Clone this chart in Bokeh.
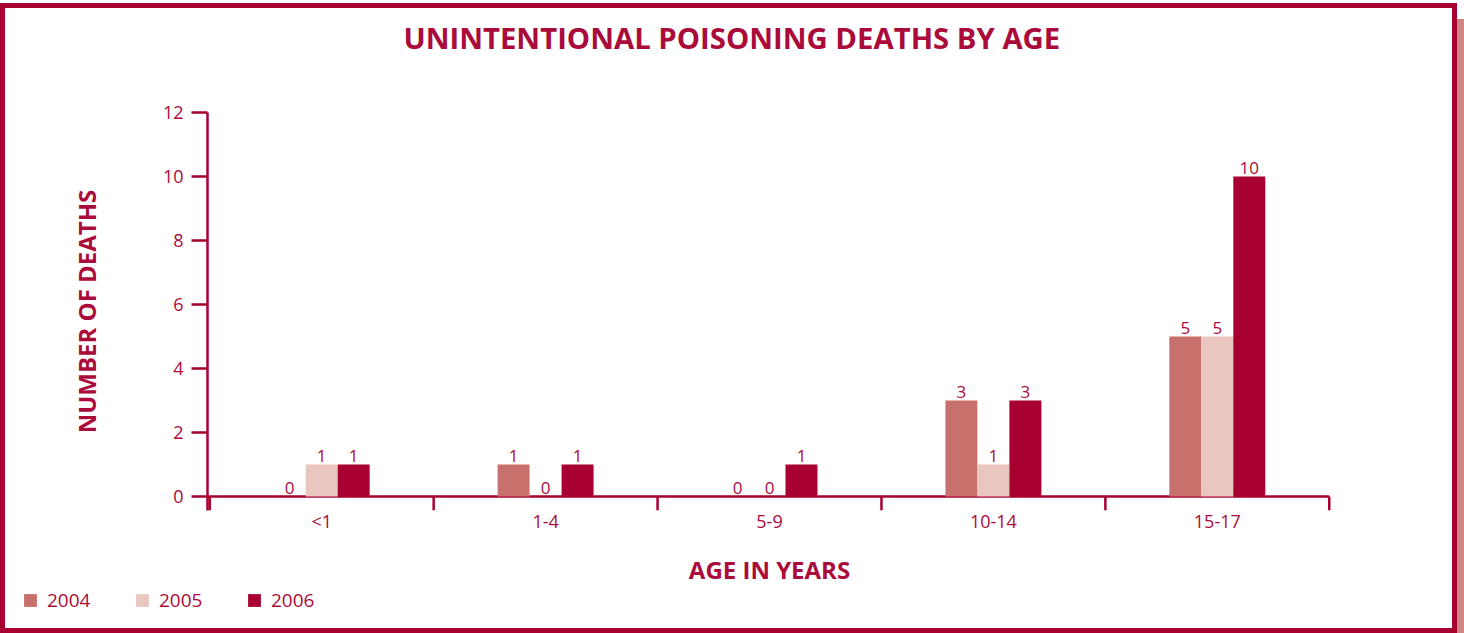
from bokeh.plotting import figure
from bokeh.layouts import column
from bokeh.models import (ColumnDataSource, FactorRange, Range1d, FixedTicker,
                          Legend, LegendItem, Title)
from bokeh.transform import dodge
from bokeh.core.properties import value
from bokeh.embed import file_html
from bokeh.resources import INLINE

# ---- data ----
cats = ["<1", "1-4", "5-9", "10-14", "15-17"]
years = ["2004", "2005", "2006"]
d2004 = [0, 1, 0, 3, 5]
d2005 = [1, 0, 0, 1, 5]
d2006 = [1, 1, 1, 3, 10]
y_ticks = [0, 2, 4, 6, 8, 10, 12]

TEXT = "#AB0B3B"
LINE = "#A80030"
colors = ["#C8706B", "#EAC6C0", "#A80030"]
FONT = "Open Sans"

src = ColumnDataSource(dict(
    cat=cats,
    d2004=d2004, d2005=d2005, d2006=d2006,
    t2004=[str(v) for v in d2004],
    t2005=[str(v) for v in d2005],
    t2006=[str(v) for v in d2006],
))

W = 1447
YMIN = -0.44
p = figure(x_range=FactorRange(*cats, range_padding=0.004),
           y_range=Range1d(YMIN, 12),
           width=W, height=580,
           output_backend="svg", toolbar_location=None,
           min_border_left=202, min_border_right=121,
           min_border_top=0, min_border_bottom=78)
p.frame_align = False
p.title_location = None

# spacer between frame and title, then the title itself (outermost)
p.add_layout(Title(text=" ", text_font_size="1px", standoff=45), "above")
p.add_layout(Title(text="UNINTENTIONAL POISONING DEATHS BY AGE", align="left",
                   offset=196, standoff=14, text_font=FONT,
                   text_font_size="29.3px", text_font_style="bold",
                   text_color=TEXT), "above")

p.grid.visible = False
p.outline_line_color = None
p.background_fill_color = "white"
p.border_fill_color = "white"

# y axis
ya = p.yaxis[0]
ya.ticker = FixedTicker(ticks=y_ticks)
ya.axis_line_color = LINE
ya.axis_line_width = 2.5
ya.major_tick_line_color = LINE
ya.major_tick_line_width = 2.5
ya.major_tick_out = 16
ya.major_tick_in = 0
ya.minor_tick_line_color = None
ya.major_label_text_font = FONT
ya.major_label_text_font_size = "18px"
ya.major_label_text_color = TEXT
ya.major_label_standoff = 8
ya.axis_label = "NUMBER OF DEATHS"
ya.axis_label_text_font = FONT
ya.axis_label_text_font_size = "24px"
ya.axis_label_text_font_style = "bold"
ya.axis_label_text_color = TEXT
ya.axis_label_standoff = 57

# x axis (category labels)
xa = p.xaxis[0]
xa.axis_line_color = None
xa.major_tick_line_color = None
xa.minor_tick_line_color = None
xa.major_label_standoff = -8
xa.major_label_text_font = FONT
xa.major_label_text_font_size = "18px"
xa.major_label_text_color = TEXT
xa.axis_label = "AGE IN YEARS"
xa.axis_label_text_font = FONT
xa.axis_label_text_font_size = "24px"
xa.axis_label_text_font_style = "bold"
xa.axis_label_text_color = TEXT
xa.axis_label_standoff = 17

# x axis baseline and boundary ticks
edge = ColumnDataSource(dict(a=[cats[0]], b=[cats[-1]]))
p.segment(x0=dodge("a", -0.52, range=p.x_range), x1=dodge("b", 0.5, range=p.x_range),
          y0=0, y1=0, source=edge, line_color=LINE, line_width=2.5)
p.segment(x0=dodge("cat", -0.5, range=p.x_range), x1=dodge("cat", -0.5, range=p.x_range),
          y0=0, y1=YMIN, source=src, line_color=LINE, line_width=2.5)
p.segment(x0=dodge("b", 0.5, range=p.x_range), x1=dodge("b", 0.5, range=p.x_range),
          y0=0, y1=YMIN, source=edge, line_color=LINE, line_width=2.5)

BW = 1 / 7
for i, (yr, col) in enumerate(zip(years, colors)):
    off = (i - 1) * BW
    p.vbar(x=dodge("cat", off, range=p.x_range), top="d" + yr, bottom=0,
           width=BW, source=src, fill_color=col, line_color=None)
    p.text(x=dodge("cat", off, range=p.x_range), y="d" + yr, text="t" + yr,
           source=src, y_offset=-2, text_align="center", text_baseline="bottom",
           text_font=value(FONT), text_font_size="17px", text_color=TEXT)

# legend strip below the chart
q = figure(width=W, height=40, x_range=Range1d(0, 1), y_range=Range1d(0, 1),
           output_backend="svg", toolbar_location=None,
           x_axis_location=None, y_axis_location=None, min_border=0)
q.frame_align = False
q.grid.visible = False
q.outline_line_color = None
q.border_fill_color = "white"
items = []
for yr, col in zip(years, colors):
    # zero-height proxy bar outside the view, only used as legend swatch
    r = q.vbar(x=[-5], top=[0], bottom=[0], width=1, fill_color=col, line_color=None)
    items.append(LegendItem(label=yr, renderers=[r]))
legend = Legend(items=items, orientation="horizontal", location=(17, 15),
                border_line_color=None, background_fill_alpha=0,
                padding=0, margin=0, spacing=0,
                glyph_width=16, glyph_height=16, label_standoff=9,
                label_width=87, label_height=16, label_text_font=FONT,
                label_text_font_size="19px", label_text_color=TEXT)
q.add_layout(legend)

layout = column(p, q, spacing=0,
                styles={"border": "5px solid #A80030",
                        "margin-top": "3px",
                        "box-shadow": "13px 10px 0 -6px #D08484"})

open("out.html", "w").write(file_html(layout, INLINE))
